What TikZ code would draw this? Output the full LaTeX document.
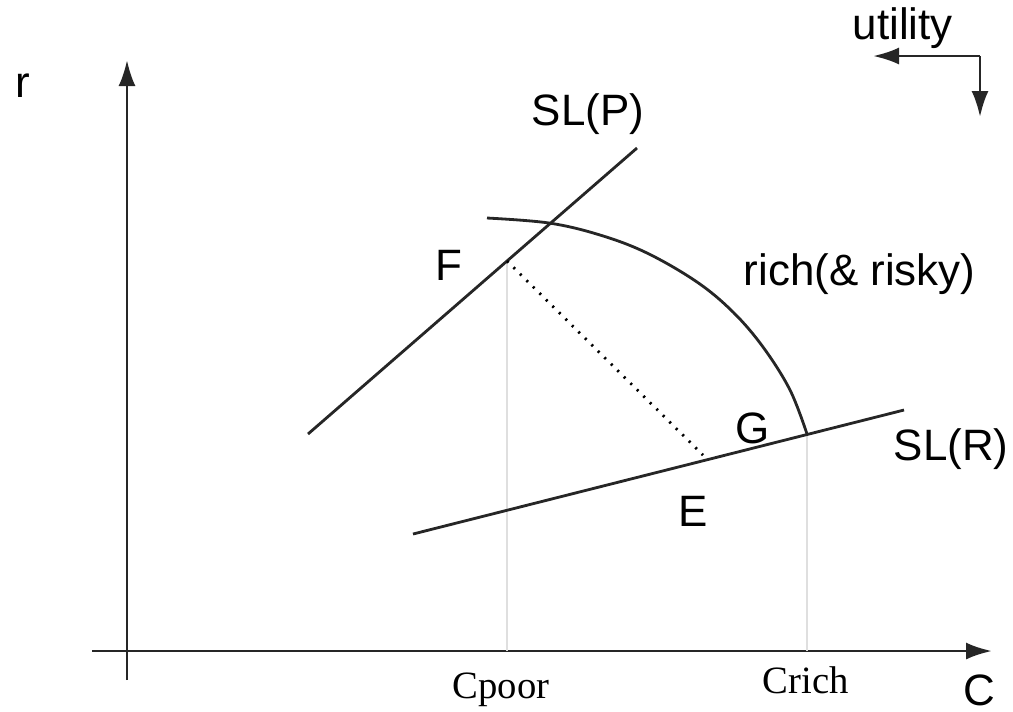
\documentclass[tikz,border=0pt]{standalone}
\usepackage{fontspec}
\setmainfont{Liberation Sans}
\newfontfamily\timesfont{Liberation Serif}
\usetikzlibrary{arrows.meta}

\begin{document}
\begin{tikzpicture}[x=0.1mm, y=-0.1mm, >={Latex[length=2.6mm,width=1.7mm]},
  lbl/.style={anchor=base west, inner sep=0pt, font=\fontsize{12.5}{14}\selectfont},
  tick/.style={anchor=base west, inner sep=0pt, font=\timesfont\fontsize{11}{12}\selectfont},
  curve/.style={line width=0.8pt, black!85}]

\useasboundingbox (0,0) rectangle (1013,711);

% Axes
\coordinate (O) at (127,651);
\coordinate (xstart) at (92,651);
\coordinate (xend) at (992,651);
\coordinate (ystart) at (127,680);
\coordinate (yend) at (127,60);
\draw[curve, ->] (xstart) -- (xend);
\draw[curve, ->] (ystart) -- (yend);
\node[lbl] (rlab) at (15,97) {r};
\node[lbl] (clab) at (963,705) {C};

% Utility direction
\coordinate (u0) at (980,56);
\coordinate (uleft) at (873,56);
\coordinate (udown) at (980,117);
\node[lbl] (util) at (852,39) {utility};
\draw[curve, ->] (u0) -- (uleft);
\draw[curve, ->] (u0) -- (udown);

% Points
\coordinate (F) at (507,261);
\coordinate (E) at (703,455);
\coordinate (G) at (807,434);
\coordinate (top) at (487,218);

% Guides down to the C axis
\draw[gray!25, line width=0.4pt] (F) -- (F |- O);
\draw[gray!25, line width=0.4pt] (G) -- (G |- O);

% SL(P): safe line of the poor
\coordinate (P1) at (308,434);
\coordinate (P2) at (637,148);
\draw[curve] (P1) -- (P2);
\node[lbl] (slp) at (531,125) {SL(P)};

% SL(R): safe line of the rich
\coordinate (R1) at (413,534);
\coordinate (R2) at (904,410);
\draw[curve] (R1) -- (R2);
\node[lbl] (slr) at (893,460) {SL(R)};

% Frontier
\draw[curve] plot[smooth, tension=0.6] coordinates {(top) (549,223) (600,235) (647,253)
  (697,282) (733,312) (763,347) (790,390) (G)};
\node[lbl] (rich) at (743,285) {rich(\& risky)};

% F to E
\draw[line width=0.8pt, dash pattern=on 0.6pt off 2pt] (F) -- (E);

% Labels
\node[lbl] (flab) at (435,280) {F};
\node[lbl] (glab) at (735,443) {G};
\node[lbl] (elab) at (678,526) {E};
\node[tick] (cpoor) at (452,698) {Cpoor};
\node[tick] (crich) at (762,693) {Crich};

\end{tikzpicture}
\end{document}
